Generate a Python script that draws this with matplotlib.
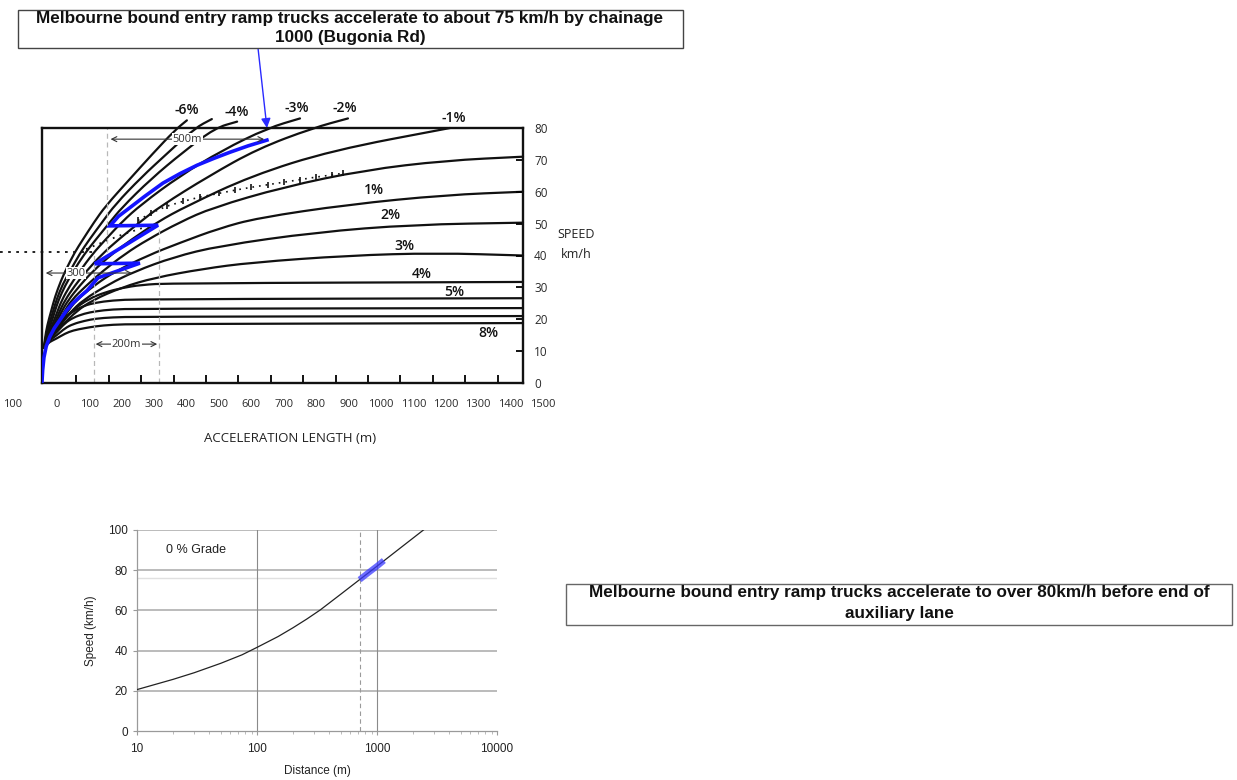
import numpy as np
import matplotlib.pyplot as plt
from matplotlib.patches import Rectangle, PathPatch
from matplotlib.path import Path
from matplotlib.transforms import blended_transform_factory

W, H = 1237, 780

# ---- top chart: truck acceleration curves by grade (distance m, speed km/h)
grade_names = ["-6%", "-5%", "-4%", "-3%", "-2%", "-1%", "0%", "1%",
               "2%", "3%", "4%", "5%", "6%", "7%", "8%"]
curve_dist = [
    [-40, -37, -30, -18, -6, 12, 30, 55, 80, 115, 150, 225, 296, 364, 401],
    [-40, -36, -25, -12, 0, 18, 40, 70, 100, 140, 180, 260, 340, 426, 478],
    [-40, -35, -20, -8, 5, 25, 50, 85, 120, 160, 200, 290, 390, 488, 556],
    [-40, -34, -15, 0, 15, 40, 70, 110, 150, 200, 260, 380, 510, 651, 750],
    [-40, -33, -10, 6, 25, 55, 90, 140, 190, 250, 320, 470, 620, 790, 898],
    [-40, -32, -5, 12, 35, 70, 110, 170, 230, 310, 400, 600, 850, 1213],
    [-40, -30, 0, 20, 45, 90, 140, 210, 280, 380, 480, 700, 950, 1200, 1438],
    [-40, -28, 5, 30, 60, 120, 180, 280, 380, 500, 620, 900, 1200, 1438],
    [-40, -26, 10, 40, 80, 160, 240, 360, 500, 800, 1100, 1438],
    [-40, -24, 15, 60, 110, 200, 300, 450, 600, 900, 1170, 1438],
    [-40, -22, 0, 18, 50, 100, 150, 200, 260, 350, 1438],
    [-40, -24, 0, 25, 50, 85, 120, 170, 250, 1438],
    [-40, -26, 0, 25, 50, 85, 120, 170, 250, 1438],
    [-40, -28, 0, 25, 50, 85, 120, 170, 250, 1438],
    [-40, -30, 0, 25, 50, 85, 120, 170, 250, 1438],
]
curve_speed = [
    [11, 14, 18, 22.5, 27, 32, 36, 41, 45, 50.5, 55.5, 64, 72, 79.3, 82.4],
    [11, 14, 18, 22.5, 26.5, 31, 35, 40.5, 45, 50.5, 56, 64.5, 72, 80, 82.8],
    [11, 14, 18, 22, 26, 30.5, 35, 40.5, 45, 50, 55, 64, 72.5, 80, 82],
    [11, 13.5, 18, 22, 26, 30.5, 35, 40.5, 45, 50.5, 56, 65, 73, 80, 83],
    [11, 13.5, 18, 22, 26, 30.5, 35, 40.5, 45, 50, 55.5, 65, 73.5, 80, 83],
    [11, 13.5, 18, 22, 26, 30.5, 35, 40.5, 45, 50.5, 55.5, 65, 73, 80],
    [11, 13.5, 18, 22, 26, 30.5, 35, 40.5, 45, 50.5, 55, 61.5, 66.8, 69.8, 71],
    [11, 13.5, 18, 22, 26, 31, 35, 40, 44, 48.5, 51.8, 56, 59, 60],
    [11, 13.5, 18, 22, 26, 31, 35, 39.5, 43, 47.3, 49.7, 50.3],
    [11, 13.5, 18, 22.5, 26, 30, 33, 35.8, 37.8, 40, 40.8, 40],
    [11, 13.5, 17, 19.5, 23, 26.5, 28.5, 29.8, 30.8, 31.3, 31.7],
    [11, 14, 17.5, 20.5, 22.5, 24.3, 25.2, 25.9, 26.3, 26.6],
    [11, 13.5, 16, 18.8, 20.5, 21.8, 22.5, 23.1, 23.3, 23.5],
    [11, 13, 15, 17.2, 18.5, 19.5, 20.2, 20.6, 20.8, 21],
    [11, 12.5, 14, 15.5, 16.5, 17.2, 17.8, 18.3, 18.5, 18.8],
]

# printed grade labels (position m, km/h)
label_names = ["-6%", "-4%", "-3%", "-2%", "-1%", "1%", "2%", "3%", "4%", "5%", "8%"]
label_dist = [401, 556, 741, 889, 1225, 978, 1028, 1071, 1127, 1225, 1330]
label_speed = [85.6, 84.9, 86.2, 86.2, 83, 60.5, 52.7, 43, 34.2, 28.5, 15.7]

# dotted guide curves
tick_dist = [250, 290, 340, 390, 440, 500, 550, 600, 650, 700, 750, 800, 850, 883]
tick_speed = [51, 53.3, 55.5, 57, 58.3, 59.5, 60.5, 61.4, 62.2, 63, 63.8, 64.6, 65.3, 65.8]
dot_dist = [90, 150, 200, 260, 318]
dot_speed = [42, 44.5, 46.5, 48.5, 50.2]

# blue truck path drawn on the chart
path_dist = [-46, -44, -40, -33, -22, -8, 9, 28, 49, 70, 93, 127, 256, 117, 312, 164, 190,
             225, 270, 327, 380, 432, 485, 534, 590, 648]
path_speed = [0.5, 4, 8, 11.5, 14.5, 17.2, 19.7, 22.5, 25, 27, 29, 33, 37.6, 37.4, 49.5,
              49.3, 52.3, 55, 58.5, 62.7, 65.7, 68.3, 70.5, 72.4, 74.4, 76.2]

x_labels = [0, 100, 200, 300, 400, 500, 600, 700, 800, 900, 1000, 1100, 1200, 1300, 1400, 1500]
y_ticks = [0, 10, 20, 30, 40, 50, 60, 70, 80]

# ---- bottom chart: 0 % grade speed-distance
dist0 = [10, 20, 30, 50, 75, 100, 150, 200, 260, 336, 500, 716, 1000, 1500, 2450]
speed0 = [20.6, 25.7, 29.0, 33.7, 37.9, 41.6, 47, 51.4, 55.7, 60.2, 68.1, 75.3, 82, 90.2, 100.1]
hl_dist = [716, 850, 1000, 1140]
hl_speed = [75.3, 78.8, 82, 84.8]


def fig_rect(x0, y0, x1, y1):
    return [x0 / W, 1 - y1 / H, (x1 - x0) / W, (y1 - y0) / H]


def smooth(xs, ys):
    # quadratic pieces through the midpoints of the read points
    verts = [(xs[0], ys[0])]
    codes = [Path.MOVETO]
    for i in range(1, len(xs) - 1):
        verts += [(xs[i], ys[i]), ((xs[i] + xs[i + 1]) / 2, (ys[i] + ys[i + 1]) / 2)]
        codes += [Path.CURVE3, Path.CURVE3]
    verts.append((xs[-1], ys[-1]))
    codes.append(Path.LINETO)
    return Path(verts, codes)


fig = plt.figure(figsize=(W / 100, H / 100), dpi=100)
fig.patch.set_facecolor("white")
chart_font = ["Open Sans", "DejaVu Sans"]
note_font = ["Liberation Sans Narrow", "Liberation Sans", "DejaVu Sans"]

# ================= top chart =================
ax = fig.add_axes(fig_rect(42, 128, 523, 383))
ax.set_xlim(-46, 1438)
ax.set_ylim(0, 80)
for s in ax.spines.values():
    s.set_linewidth(1.7)
    s.set_color("#111111")

for xs, vs in zip(curve_dist, curve_speed):
    ax.add_patch(PathPatch(smooth(xs, vs), fill=False, edgecolor="#111111", lw=1.6,
                           clip_on=False, capstyle="round"))

ax.plot(tick_dist, tick_speed, color="#111111", lw=1.2, ls=(0, (1, 3)),
        marker="|", markersize=4, markeredgewidth=1.2)
ax.plot(dot_dist, dot_speed, color="#111111", lw=1.3, ls=(0, (1, 3)))
ax.plot([-176, 123], [41, 41], color="#111111", lw=1.3, ls=(0, (1.5, 3)), clip_on=False)

# grey dashed guides
for gx, g0, g1 in [(154, 41, 80), (114, 0, 41), (315, 0, 49)]:
    ax.plot([gx, gx], [g0, g1], color="#b8b8b8", lw=0.9, ls=(0, (4, 3)))

ax.plot(path_dist, path_speed, color="#1414ff", lw=2.6, solid_joinstyle="miter", zorder=5)

arrow_kw = dict(arrowstyle="<->", color="#333333", lw=0.8, mutation_scale=9)
for x0, x1, v, txt in [(157, 648, 76.5, "500m"), (-43, 240, 34.5, "300"), (111, 318, 12.2, "200m")]:
    ax.annotate("", xy=(x0, v), xytext=(x1, v), arrowprops=arrow_kw, zorder=6)
    ax.text((x0 + x1) / 2 - (40 if txt == "300" else 0), v, txt, ha="center", va="center",
            fontsize=8, color="#333333", family=chart_font, zorder=7,
            bbox=dict(facecolor="white", edgecolor="none", pad=0.3))

for name, lx, lv in zip(label_names, label_dist, label_speed):
    ax.text(lx, lv, name, ha="center", va="center", fontsize=10, fontweight="semibold",
            color="#111111", family=chart_font, clip_on=False)

ax.yaxis.tick_right()
ax.set_yticks(y_ticks)
ax.tick_params(axis="y", direction="in", length=5, width=1.3, pad=8, labelsize=8.5,
               labelcolor="#2a2a2a")
for t in ax.get_yticklabels():
    t.set_family(chart_font)

ax.set_xticks(np.arange(60, 1400, 100))
ax.set_xticklabels([])
ax.tick_params(axis="x", direction="in", length=6, width=1.3)
trans = blended_transform_factory(ax.transData, ax.transAxes)
for xl in x_labels:
    ax.text(xl, -0.086, str(xl), transform=trans, ha="center", va="center", fontsize=8,
            color="#2a2a2a", family=chart_font, clip_on=False)
ax.text(-136, -0.086, "100", transform=trans, ha="center", va="center", fontsize=8,
        color="#2a2a2a", family=chart_font, clip_on=False)

fig.text(290 / W, 1 - 438 / H, "ACCELERATION LENGTH (m)", ha="center", va="center",
         fontsize=9.5, color="#222222", family=chart_font)
fig.text(576 / W, 1 - 235 / H, "SPEED", ha="center", va="center", fontsize=9,
         color="#222222", family=chart_font)
fig.text(576 / W, 1 - 254 / H, "km/h", ha="center", va="center", fontsize=9,
         color="#222222", family=chart_font)

# note box (top)
fig.add_artist(Rectangle((18 / W, 1 - 48 / H), (683 - 18) / W, 38 / H, transform=fig.transFigure,
                         facecolor="white", edgecolor="#444444", lw=1.0))
fig.text(350 / W, 1 - 28 / H,
         "Melbourne bound entry ramp trucks accelerate to about 75 km/h by chainage\n1000 (Bugonia Rd)",
         ha="center", va="center", fontsize=12.3, fontweight="bold", family=note_font,
         linespacing=1.4, color="#111111")
ax.annotate("", xy=(648, 80), xycoords="data", xytext=(258 / W, 1 - 48 / H),
            textcoords="figure fraction", annotation_clip=False,
            arrowprops=dict(arrowstyle="-|>", color="#2a2aff", lw=1.0, mutation_scale=14,
                            shrinkA=0, shrinkB=0))

# ================= bottom chart =================
bx = fig.add_axes(fig_rect(137, 530, 497, 731))
bx.set_xscale("log")
bx.set_xlim(10, 10000)
bx.set_ylim(0, 100)
for yv in [20, 40, 60, 80, 100]:
    bx.axhline(yv, color="#b5b5b5", lw=1.3, zorder=1)
bx.axhline(76, color="#e0e0e0", lw=1.0, zorder=1)
for xv in [100, 1000]:
    bx.axvline(xv, color="#8a8a8a", lw=0.8, zorder=1)
bx.plot([716, 716], [0, 100], color="#9a9a9a", lw=0.8, ls=(0, (4, 3)), zorder=1)
bx.plot(dist0, speed0, color="#222222", lw=0.9, zorder=3)
bx.plot(hl_dist, hl_speed, color="#3b3bff", lw=4.5, alpha=0.75, solid_capstyle="butt", zorder=4)

for side in ["top", "right"]:
    bx.spines[side].set_visible(False)
for side in ["left", "bottom"]:
    bx.spines[side].set_color("#9a9a9a")
    bx.spines[side].set_linewidth(0.9)
bx.set_yticks([0, 20, 40, 60, 80, 100])
bx.set_xticks([10, 100, 1000, 10000])
bx.set_xticklabels(["10", "100", "1000", "10000"])
bx.tick_params(axis="both", labelsize=8.5, colors="#9a9a9a", labelcolor="#222222", length=3)
bx.tick_params(axis="x", pad=6)
bx.tick_params(axis="x", which="minor", length=2, colors="#b0b0b0")
for t in bx.get_xticklabels() + bx.get_yticklabels():
    t.set_family(["Liberation Sans", "DejaVu Sans"])
bx.set_xlabel("Distance (m)", fontsize=8.5, family=["Liberation Sans"], color="#222222", labelpad=7)
bx.set_ylabel("Speed (km/h)", fontsize=8.5, family=["Liberation Sans"], color="#222222", labelpad=8)
bx.text(0.08, 0.9, "0 % Grade", transform=bx.transAxes, fontsize=9,
        family=["Liberation Sans"], color="#222222", va="center")

# note box (bottom)
fig.add_artist(Rectangle((566 / W, 1 - 625 / H), (1232 - 566) / W, 41 / H, transform=fig.transFigure,
                         facecolor="white", edgecolor="#666666", lw=1.0))
fig.text(899 / W, 1 - 603 / H,
         "Melbourne bound entry ramp trucks accelerate to over 80km/h before end of\nauxiliary lane",
         ha="center", va="center", fontsize=12.3, fontweight="bold", family=note_font,
         linespacing=1.45, color="#111111")

fig.savefig("out.png", dpi=100, facecolor="white")
